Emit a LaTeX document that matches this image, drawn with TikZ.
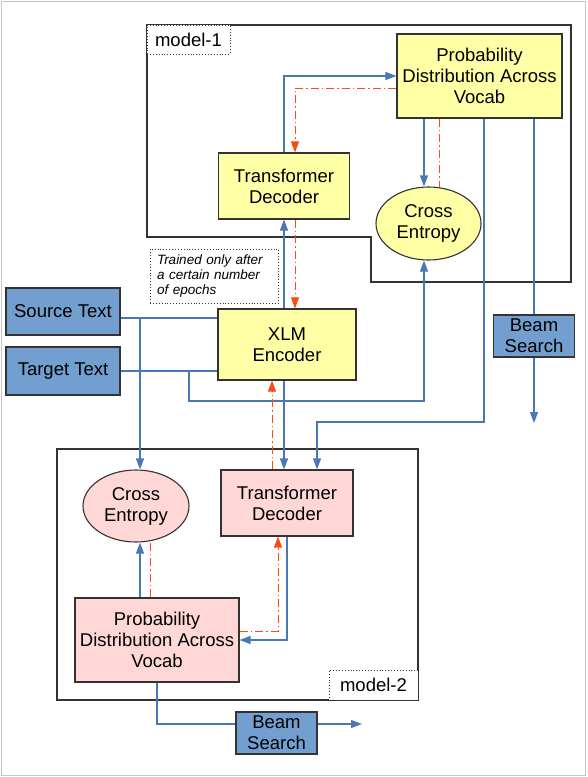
\documentclass[tikz,border=0pt]{standalone}
\usepackage{fontspec}
\setmainfont{Liberation Sans}
\usetikzlibrary{arrows.meta,shapes.geometric}
\definecolor{yel}{HTML}{FFFFA6}
\definecolor{pnk}{HTML}{FFD7D7}
\definecolor{bbox}{HTML}{729FCF}
\definecolor{bline}{HTML}{4A78B5}
\definecolor{orng}{HTML}{FF4A10}
\definecolor{edge}{HTML}{333333}
\begin{document}
\begin{tikzpicture}[x=1pt,y=-1pt,
 every node/.style={font=\fontsize{18.5}{21}\selectfont, inner sep=0pt, align=center},
 shapebox/.style={draw=edge, line width=1.1pt},
 yellowbox/.style={shapebox, fill=yel},
 pinkbox/.style={shapebox, fill=pnk},
 bluebox/.style={shapebox, fill=bbox},
 framebox/.style={draw=edge, line width=1.1pt},
 tagbox/.style={draw=edge, fill=white, dotted, line width=0.9pt},
 flow/.style={draw=bline, line width=1.1pt},
 flowarrow/.style={flow, -{Triangle[length=11pt,width=8pt]}},
 back/.style={draw=orng, line width=0.9pt, dash pattern=on 8pt off 3pt on 1.5pt off 3pt},
 backarrow/.style={back, -{Triangle[length=11pt,width=8pt]}}
]
\useasboundingbox (0,0) rectangle (587,777);
\draw[draw=gray!45, line width=1pt] (1,1) rectangle (585.5,775.5);

% frames
\draw[framebox] (147,25) -- (571,25) -- (571,282) -- (371,282) -- (371,237) -- (147,237) -- cycle;
\draw[framebox] (57,449) rectangle (418,700);
\node[tagbox, minimum width=83pt, minimum height=29pt] (tag1) at (188.5,39.5) {model-1};
\node[tagbox, minimum width=89pt, minimum height=30pt] (tag2) at (373.5,685) {model-2};

% nodes
\node[yellowbox, minimum width=165pt, minimum height=84pt] (prob1) at (479.5,76) {Probability\\Distribution Across\\Vocab};
\node[yellowbox, minimum width=131pt, minimum height=66pt] (td1) at (284,186) {Transformer\\Decoder};
\node[yellowbox, ellipse, minimum width=105pt, minimum height=73pt] (ce1) at (428.5,223.5) {Cross\\Entropy};
\node[yellowbox, minimum width=138pt, minimum height=71pt] (xlm) at (287,344.5) {XLM\\Encoder};
\node[bluebox, minimum width=114pt, minimum height=47pt] (src) at (63,311.5) {Source Text};
\node[bluebox, minimum width=114pt, minimum height=48pt] (tgt) at (63,371) {Target Text};
\node[bluebox, minimum width=81pt, minimum height=42pt] (beam1) at (534,336) {Beam\\Search};
\node[tagbox, font=\fontsize{13.5}{15}\selectfont\itshape, align=left, text width=114pt, minimum height=54pt, inner xsep=7pt] (note) at (214,276) {Trained only after\\a certain number\\of epochs};
\node[pinkbox, ellipse, minimum width=106pt, minimum height=72pt] (ce2) at (136,506) {Cross\\Entropy};
\node[pinkbox, minimum width=132pt, minimum height=66pt] (td2) at (287,503) {Transformer\\Decoder};
\node[pinkbox, minimum width=164pt, minimum height=84pt] (prob2) at (157,640) {Probability\\Distribution Across\\Vocab};
\node[bluebox, minimum width=81pt, minimum height=42pt] (beam2) at (276.5,733) {Beam\\Search};

% inputs
\coordinate (s1) at ([yshift=-6.5pt]src.east);
\draw[flow] (s1) -- (s1 -| xlm.west);
\draw[flowarrow] ([xshift=4pt]ce2.north |- s1) -- ([xshift=4pt]ce2.north);
\draw[flow] (tgt.east) -- (tgt.east -| xlm.west);
\coordinate (t1) at (189,401);
\draw[flowarrow] (t1 |- tgt.east) -- (t1) -| ([xshift=-4.5pt]ce1.south);

% model-1
\draw[flowarrow] (td1.north) |- (prob1.west);
\draw[backarrow] ([yshift=-12pt]prob1.west) -| ([xshift=11pt]td1.north);
\draw[flowarrow] ([xshift=-4.5pt]ce1.north |- prob1.south) -- ([xshift=-4.5pt]ce1.north);
\draw[back] ([xshift=10.5pt]ce1.north |- prob1.south) -- ([xshift=10.5pt,yshift=-0.7pt]ce1.north);
\coordinate (j1) at (484,422);
\draw[flowarrow] (prob1.south -| j1) -- (j1) -| ([xshift=30pt]td2.north);
\draw[flow] (prob1.south -| beam1.north) -- (beam1.north);
\coordinate (b1) at (534,423);
\draw[flowarrow] (beam1.south) -- (b1);

% encoder links
\draw[flowarrow] (td1.south |- xlm.north) -- (td1.south);
\draw[backarrow] ([xshift=11pt]td1.south) -- ([xshift=11pt]td1.south |- xlm.north);
\draw[flowarrow] ([xshift=-3pt]td2.north |- xlm.south) -- ([xshift=-3pt]td2.north);
\draw[backarrow] ([xshift=-15pt]td2.north) -- ([xshift=-15pt]td2.north |- xlm.south);

% model-2
\draw[flowarrow] (td2.south) |- (prob2.east);
\draw[backarrow] ([yshift=9pt]prob2.east) -| ([xshift=-9pt]td2.south);
\draw[flowarrow] ([xshift=4pt]ce2.south |- prob2.north) -- ([xshift=4pt]ce2.south);
\draw[back] ([xshift=14pt]ce2.south |- prob2.north) -- ([xshift=14pt,yshift=1.3pt]ce2.south);
\draw[flow] (prob2.south) |- ([yshift=9pt]beam2.west);
\coordinate (b2) at (362,724);
\draw[flowarrow] ([yshift=9pt]beam2.east) -- (b2);
\end{tikzpicture}
\end{document}
